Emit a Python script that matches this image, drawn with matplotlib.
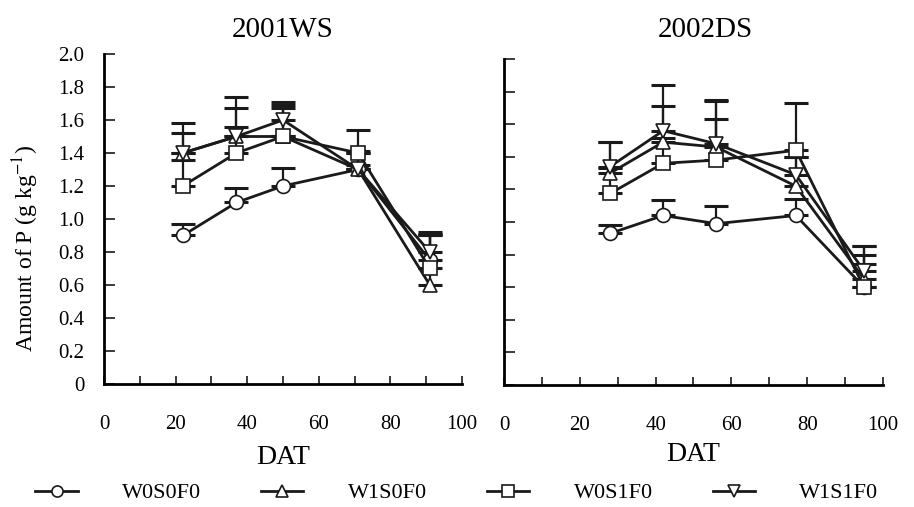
import matplotlib.pyplot as plt
import numpy as np

plt.rcParams['font.family'] = ['Liberation Serif', 'DejaVu Serif']
plt.rcParams['mathtext.fontset'] = 'stix'

# 2001WS
dat_01 = [22, 37, 50, 71, 91]
w0s0f0_01 = [0.90, 1.10, 1.20, 1.30, 0.75]
w1s0f0_01 = [1.40, 1.50, 1.50, 1.30, 0.60]
w0s1f0_01 = [1.20, 1.40, 1.50, 1.40, 0.70]
w1s1f0_01 = [1.40, 1.50, 1.60, 1.30, 0.80]
err_w0s0f0_01 = [0.07, 0.09, 0.11, 0.10, 0.15]
err_w1s0f0_01 = [0.12, 0.17, 0.19, 0.11, 0.31]
err_w0s1f0_01 = [0.16, 0.155, 0.17, 0.14, 0.22]
err_w1s1f0_01 = [0.18, 0.24, 0.11, 0.03, 0.10]

# 2002DS
dat_02 = [28, 42, 56, 77, 95]
w0s0f0_02 = [0.93, 1.04, 0.99, 1.04, 0.60]
w1s0f0_02 = [1.30, 1.49, 1.46, 1.22, 0.65]
w0s1f0_02 = [1.175, 1.36, 1.38, 1.44, 0.60]
w1s1f0_02 = [1.34, 1.56, 1.48, 1.29, 0.70]
err_w0s0f0_02 = [0.05, 0.095, 0.11, 0.10, 0.145]
err_w1s0f0_02 = [0.19, 0.22, 0.28, 0.18, 0.20]
err_w0s1f0_02 = [0.155, 0.155, 0.25, 0.29, 0.20]
err_w1s1f0_02 = [0.15, 0.28, 0.27, 0.11, 0.15]

labels = ['W0S0F0', 'W1S0F0', 'W0S1F0', 'W1S1F0']
markers = ['o', '^', 's', 'v']

fig = plt.figure(figsize=(9.14, 5.07), dpi=100)
ax1 = fig.add_axes([0.1138, 0.2426, 0.3917, 0.6509])
ax2 = fig.add_axes([0.5514, 0.2406, 0.4147, 0.6430])

panels = [
    (ax1, dat_01, [w0s0f0_01, w1s0f0_01, w0s1f0_01, w1s1f0_01],
     [err_w0s0f0_01, err_w1s0f0_01, err_w0s1f0_01, err_w1s1f0_01]),
    (ax2, dat_02, [w0s0f0_02, w1s0f0_02, w0s1f0_02, w1s1f0_02],
     [err_w0s0f0_02, err_w1s0f0_02, err_w0s1f0_02, err_w1s1f0_02]),
]

handles = []
for ax, x, ys, errs in panels:
    for y, e in zip(ys, errs):
        ax.errorbar(x, y, yerr=[np.zeros(len(e)), e], fmt='none', ecolor='#1a1a1a',
                    elinewidth=1.6, capsize=8.5, capthick=2.2, zorder=1)
    for y, m, lab in zip(ys, markers, labels):
        h, = ax.plot(x, y, color='#1a1a1a', linewidth=2, marker=m, markersize=10,
                     markerfacecolor='white', markeredgecolor='#1a1a1a',
                     markeredgewidth=1.2, label=lab, zorder=3)
        if ax is ax1:
            handles.append(h)
    ax.set_xlim(0, 100)
    ax.set_ylim(0, 2.0)
    ax.set_xticks(range(0, 101, 20))
    ax.set_xticks(range(0, 101, 10), minor=True)
    ax.set_yticks(np.arange(0, 2.01, 0.2))
    ax.spines['top'].set_visible(False)
    ax.spines['right'].set_visible(False)
    ax.spines['left'].set_linewidth(2)
    ax.spines['bottom'].set_linewidth(2)
    ax.tick_params(axis='both', which='both', direction='in', width=1.2, colors='#1a1a1a',
                   labelcolor='black', labelsize=15)
    ax.tick_params(axis='x', which='major', length=6, pad=22)
    ax.tick_params(axis='x', which='minor', length=6)
    ax.tick_params(axis='y', length=8, pad=14)

ax1.set_xlabel('DAT', fontsize=20, labelpad=8)
ax2.set_xlabel('DAT', fontsize=20, labelpad=5)
fig.text(283 / 914, 1 - 30 / 507, '2001WS', fontsize=21, ha='center', va='center')
fig.text(705 / 914, 1 - 30 / 507, '2002DS', fontsize=21, ha='center', va='center')

ax1.set_yticklabels(['0', '0.2', '0.4', '0.6', '0.8', '1.0', '1.2', '1.4', '1.6', '1.8', '2.0'])
ax2.set_yticklabels([])
ax1.set_ylabel('Amount of P (g kg$^{-1}$)', fontsize=17)
ax1.yaxis.set_label_coords(-0.175, 0.41)

fig.legend(handles=handles, labels=labels, loc='center', ncol=4, frameon=False,
           fontsize=16, bbox_to_anchor=(0.5, 1 - 493 / 507), columnspacing=2.7,
           handlelength=1.9, handletextpad=2.0, markerscale=0.8)

plt.savefig('out.png', dpi=100)
